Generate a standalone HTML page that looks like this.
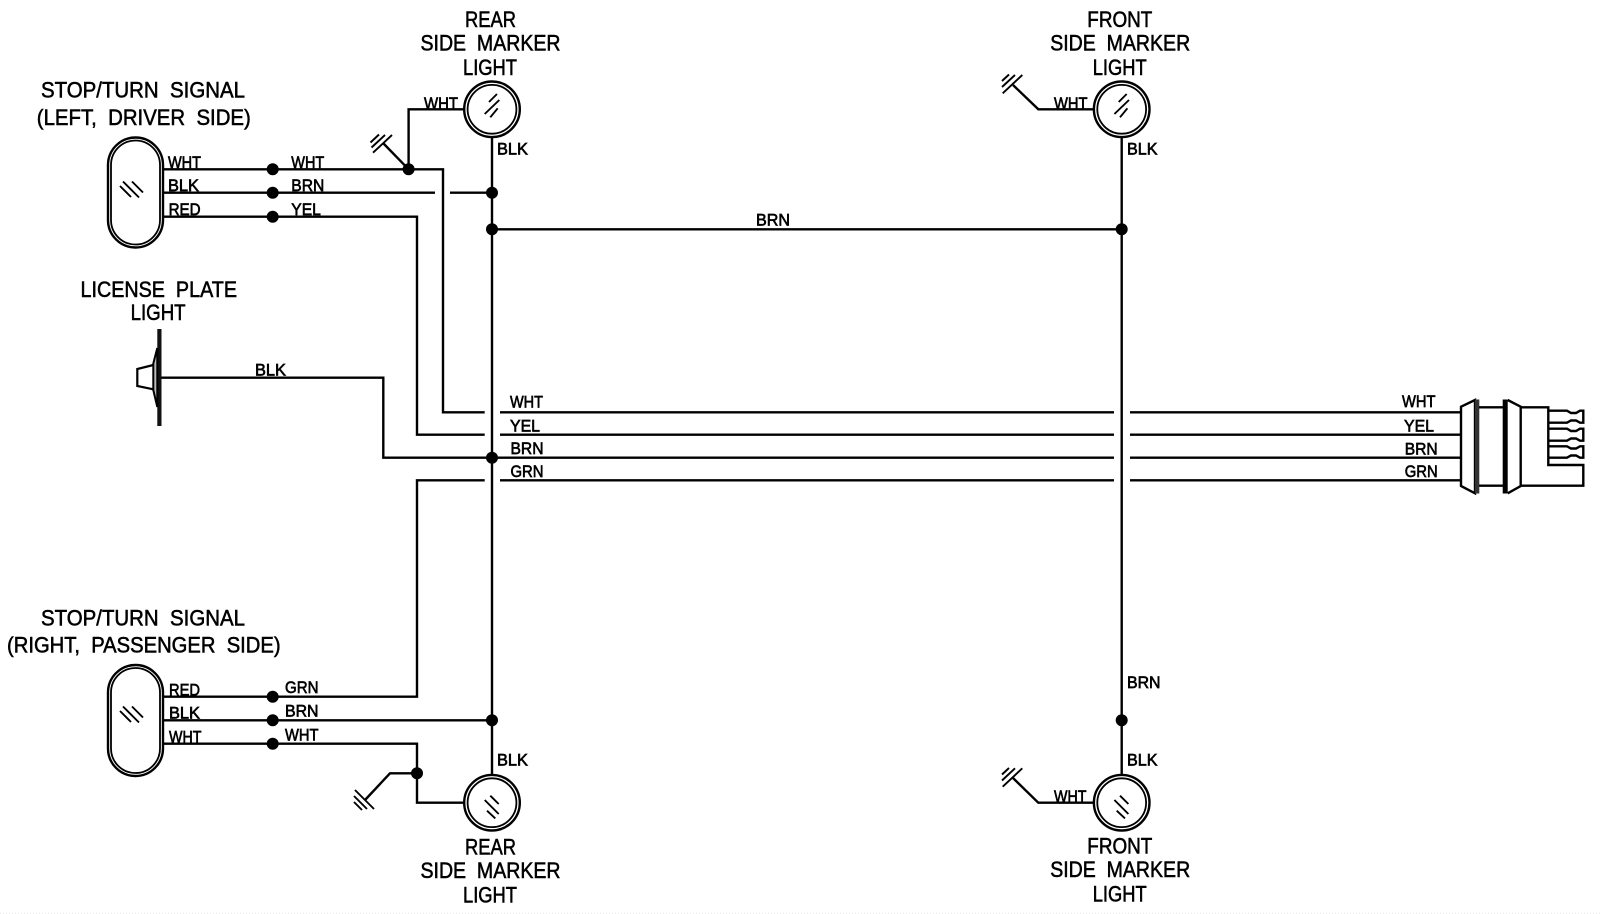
<!DOCTYPE html>
<html><head><meta charset="utf-8"><style>
html,body{margin:0;padding:0;background:#fff;width:1600px;height:914px;overflow:hidden}
svg{display:block}
.w{fill:none;stroke:#000;stroke-width:2.4}
.h{fill:none;stroke:#000;stroke-width:1.9}
.b text{font-family:"Liberation Sans",sans-serif;font-size:22px;fill:#000;stroke:#000;stroke-width:.55;white-space:pre}
.s text{font-family:"Liberation Sans",sans-serif;font-size:17px;fill:#000;stroke:#000;stroke-width:.65;white-space:pre}
</style></head><body>
<svg width="1600" height="914" viewBox="0 0 1600 914" xmlns="http://www.w3.org/2000/svg">
<rect width="1600" height="914" fill="#fff"/>
<line x1="0" y1="913.5" x2="1600" y2="913.5" stroke="#eee" stroke-width="1" stroke-dasharray="1 2"/>

<!-- wires -->
<g class="w">
<path d="M164 169.3H443V412.3H484.7"/>
<path d="M164 192.7H435M450 192.7H492"/>
<path d="M164 216.7H417V434.7H484.7"/>
<path d="M408.6 169.3V109.3H464"/>
<path d="M408.6 169.3L383 143"/>
<path d="M492 138V774"/>
<path d="M1121.7 138V774"/>
<path d="M492 229.3H1121.7"/>
<path d="M160 377.7H383.3V457.7H492"/>
<path d="M500 412.3H1114M1130 412.3H1461"/>
<path d="M500 434.7H1114M1130 434.7H1461"/>
<path d="M492 457.7H1114M1130 457.7H1461"/>
<path d="M500 480.3H1114M1130 480.3H1461"/>
<path d="M484.7 480.3H417V696.7H164"/>
<path d="M164 720.3H492"/>
<path d="M164 743.7H417V802.7H464"/>
<path d="M417 773.3H390L365 800"/>
<path d="M1093 109.3H1038.3L1013 85"/>
<path d="M1093 802.7H1038.3L1013 778"/>
</g>

<!-- ground symbols -->
<g class="h">
<path d="M373 152.7L392 135M371.5 147.5L385 135M370.5 142.5L379 134.5"/>
<path d="M355 790L374 809M354 796L367 809M354 802L362 810"/>
<path d="M1002.7 93.3L1022.3 75M1002 87L1015 75M1002 81L1009 74.5"/>
<path d="M1002.7 786.7L1022.3 768.3M1002 780.5L1015 768.3M1002 774.5L1009 768"/>
</g>

<!-- junction dots -->
<g fill="#000">
<circle cx="272.7" cy="169.3" r="6"/><circle cx="272.7" cy="192.7" r="6"/><circle cx="272.7" cy="216.7" r="6"/>
<circle cx="408.6" cy="169.3" r="6"/>
<circle cx="492" cy="192.7" r="6"/><circle cx="492" cy="229.3" r="6"/><circle cx="1121.7" cy="229.3" r="6"/>
<circle cx="492" cy="457.7" r="6"/>
<circle cx="272.7" cy="696.7" r="6"/><circle cx="272.7" cy="720.3" r="6"/><circle cx="272.7" cy="743.7" r="6"/>
<circle cx="492" cy="720.3" r="6"/><circle cx="1121.7" cy="720.3" r="6"/>
<circle cx="417" cy="773.3" r="6"/>
</g>

<!-- pills -->
<g class="w">
<rect x="108" y="137.5" width="55" height="110" rx="27.5" ry="27.5" fill="#fff"/>
<rect x="111" y="140.5" width="49" height="104" rx="24.5" ry="24.5" stroke-width="1.8"/>
<rect x="108" y="665" width="55" height="111" rx="27.5" ry="27.5" fill="#fff"/>
<rect x="111" y="668" width="49" height="105" rx="24.5" ry="24.5" stroke-width="1.8"/>
</g>
<g class="h">
<path d="M120 186L131 197M123 181.5L139 197.5M132 181.5L143 192.5"/>
<path d="M120 711L131 722M123 706.5L139 722.5M132 706.5L143 717.5"/>
</g>

<!-- lamps -->
<g>
<circle cx="492" cy="109.3" r="27.8" fill="#fff" stroke="#000" stroke-width="2.4"/>
<circle cx="492" cy="109.3" r="24.4" fill="none" stroke="#000" stroke-width="1.8"/>
<circle cx="1121.7" cy="109.3" r="27.8" fill="#fff" stroke="#000" stroke-width="2.4"/>
<circle cx="1121.7" cy="109.3" r="24.4" fill="none" stroke="#000" stroke-width="1.8"/>
<circle cx="492" cy="802.7" r="27.8" fill="#fff" stroke="#000" stroke-width="2.4"/>
<circle cx="492" cy="802.7" r="24.4" fill="none" stroke="#000" stroke-width="1.8"/>
<circle cx="1121.7" cy="802.7" r="27.8" fill="#fff" stroke="#000" stroke-width="2.4"/>
<circle cx="1121.7" cy="802.7" r="24.4" fill="none" stroke="#000" stroke-width="1.8"/>
</g>
<g class="h">
<path d="M489 102L497 94M484.7 114L499.3 100M490.3 117.3L497.7 108.3"/>
<path d="M1118.7 102L1126.7 94M1114.4 114L1129 100M1120 117.3L1127.4 108.3"/>
<path d="M490.3 795.7L498.7 804M484.7 800L498.7 814M487 810.7L495.3 818.4"/>
<path d="M1120 795.7L1128.4 804M1114.4 800L1128.4 814M1116.7 810.7L1125 818.4"/>
</g>

<!-- license plate light -->
<rect x="157.3" y="329" width="4.2" height="97" fill="#111"/>
<path d="M157.3 348L153.3 363.5V390L157.3 407Z" fill="#bbb" stroke="#000" stroke-width="2"/>
<path d="M153.3 365L137.3 369V386L153.3 389.3" fill="none" stroke="#000" stroke-width="2.2"/>

<!-- connector -->
<g class="w">
<path d="M1475 400L1461 406.7V486L1475 493.3Z" fill="#fff"/>
<rect x="1475" y="399.5" width="4.3" height="94" fill="#333" stroke="none"/>
<path d="M1479 407.3H1503M1479 485.7H1503"/>
<rect x="1502.7" y="399.5" width="5" height="94" fill="#000" stroke="none"/>
<path d="M1507.7 400L1520.7 406.7V486L1507.7 493.3"/>
<path d="M1520.7 407.3H1548.3V465H1583.3V485.7H1520.7"/>
<path d="M1548.3 410.7H1567L1571 413H1576L1580 410.7H1583.3V422.7H1580L1576 420.5H1571L1567 422.7H1548.3"/>
<path d="M1548.3 428.7H1567L1571 431H1576L1580 428.7H1583.3V440.7H1580L1576 438.5H1571L1567 440.7H1548.3"/>
<path d="M1548.3 446.3H1567L1571 448.5H1576L1580 446.3H1583.3V457.7H1580L1576 455.5H1571L1567 457.7H1548.3"/>
</g>

<!-- big labels -->
<g class="b">
<text x="465" y="27" textLength="51" lengthAdjust="spacingAndGlyphs">REAR</text>
<text x="420.5" y="50.3" textLength="140" lengthAdjust="spacingAndGlyphs">SIDE  MARKER</text>
<text x="463" y="75" textLength="54" lengthAdjust="spacingAndGlyphs">LIGHT</text>
<text x="1087.3" y="27" textLength="65" lengthAdjust="spacingAndGlyphs">FRONT</text>
<text x="1050.2" y="50.3" textLength="140" lengthAdjust="spacingAndGlyphs">SIDE  MARKER</text>
<text x="1092.7" y="75" textLength="54" lengthAdjust="spacingAndGlyphs">LIGHT</text>
<text x="41" y="97.5" textLength="204" lengthAdjust="spacingAndGlyphs">STOP/TURN  SIGNAL</text>
<text x="36.8" y="125" textLength="214" lengthAdjust="spacingAndGlyphs">(LEFT,  DRIVER  SIDE)</text>
<text x="80.5" y="297" textLength="156.5" lengthAdjust="spacingAndGlyphs">LICENSE  PLATE</text>
<text x="130.6" y="320" textLength="55" lengthAdjust="spacingAndGlyphs">LIGHT</text>
<text x="41" y="625.5" textLength="204" lengthAdjust="spacingAndGlyphs">STOP/TURN  SIGNAL</text>
<text x="7" y="652.5" textLength="273.6" lengthAdjust="spacingAndGlyphs">(RIGHT,  PASSENGER  SIDE)</text>
<text x="465" y="854.5" textLength="51" lengthAdjust="spacingAndGlyphs">REAR</text>
<text x="420.5" y="878" textLength="140" lengthAdjust="spacingAndGlyphs">SIDE  MARKER</text>
<text x="463" y="902.5" textLength="54" lengthAdjust="spacingAndGlyphs">LIGHT</text>
<text x="1087.3" y="853.5" textLength="65" lengthAdjust="spacingAndGlyphs">FRONT</text>
<text x="1050.2" y="877" textLength="140" lengthAdjust="spacingAndGlyphs">SIDE  MARKER</text>
<text x="1092.7" y="901.5" textLength="54" lengthAdjust="spacingAndGlyphs">LIGHT</text>
</g>

<!-- small labels -->
<g class="s">
<text x="168" y="168" textLength="33" lengthAdjust="spacingAndGlyphs">WHT</text>
<text x="168" y="191" textLength="31" lengthAdjust="spacingAndGlyphs">BLK</text>
<text x="168.6" y="215" textLength="32" lengthAdjust="spacingAndGlyphs">RED</text>
<text x="291.3" y="168" textLength="33" lengthAdjust="spacingAndGlyphs">WHT</text>
<text x="291.3" y="191" textLength="33" lengthAdjust="spacingAndGlyphs">BRN</text>
<text x="291.3" y="215" textLength="29.5" lengthAdjust="spacingAndGlyphs">YEL</text>
<text x="424" y="109" textLength="34" lengthAdjust="spacingAndGlyphs">WHT</text>
<text x="497" y="154.7" textLength="31" lengthAdjust="spacingAndGlyphs">BLK</text>
<text x="756" y="225.5" textLength="34" lengthAdjust="spacingAndGlyphs">BRN</text>
<text x="255" y="375.7" textLength="31" lengthAdjust="spacingAndGlyphs">BLK</text>
<text x="510" y="407.5" textLength="33" lengthAdjust="spacingAndGlyphs">WHT</text>
<text x="510" y="431.5" textLength="30" lengthAdjust="spacingAndGlyphs">YEL</text>
<text x="510.5" y="454" textLength="33" lengthAdjust="spacingAndGlyphs">BRN</text>
<text x="510.5" y="477" textLength="33" lengthAdjust="spacingAndGlyphs">GRN</text>
<text x="1402" y="407" textLength="33.5" lengthAdjust="spacingAndGlyphs">WHT</text>
<text x="1404" y="431.5" textLength="30" lengthAdjust="spacingAndGlyphs">YEL</text>
<text x="1404.7" y="454.5" textLength="33" lengthAdjust="spacingAndGlyphs">BRN</text>
<text x="1404.7" y="477" textLength="33" lengthAdjust="spacingAndGlyphs">GRN</text>
<text x="1054" y="109" textLength="33.5" lengthAdjust="spacingAndGlyphs">WHT</text>
<text x="1127" y="154.5" textLength="30.5" lengthAdjust="spacingAndGlyphs">BLK</text>
<text x="1127" y="688" textLength="33.5" lengthAdjust="spacingAndGlyphs">BRN</text>
<text x="1127" y="765.5" textLength="30.5" lengthAdjust="spacingAndGlyphs">BLK</text>
<text x="1054" y="802" textLength="32.5" lengthAdjust="spacingAndGlyphs">WHT</text>
<text x="169" y="695.5" textLength="31" lengthAdjust="spacingAndGlyphs">RED</text>
<text x="169" y="718.5" textLength="31" lengthAdjust="spacingAndGlyphs">BLK</text>
<text x="169" y="742.5" textLength="32.5" lengthAdjust="spacingAndGlyphs">WHT</text>
<text x="285" y="693" textLength="33.5" lengthAdjust="spacingAndGlyphs">GRN</text>
<text x="285" y="716.5" textLength="33.5" lengthAdjust="spacingAndGlyphs">BRN</text>
<text x="285" y="740.5" textLength="33.5" lengthAdjust="spacingAndGlyphs">WHT</text>
<text x="497" y="765.5" textLength="31" lengthAdjust="spacingAndGlyphs">BLK</text>
</g>
</svg>
</body></html>
